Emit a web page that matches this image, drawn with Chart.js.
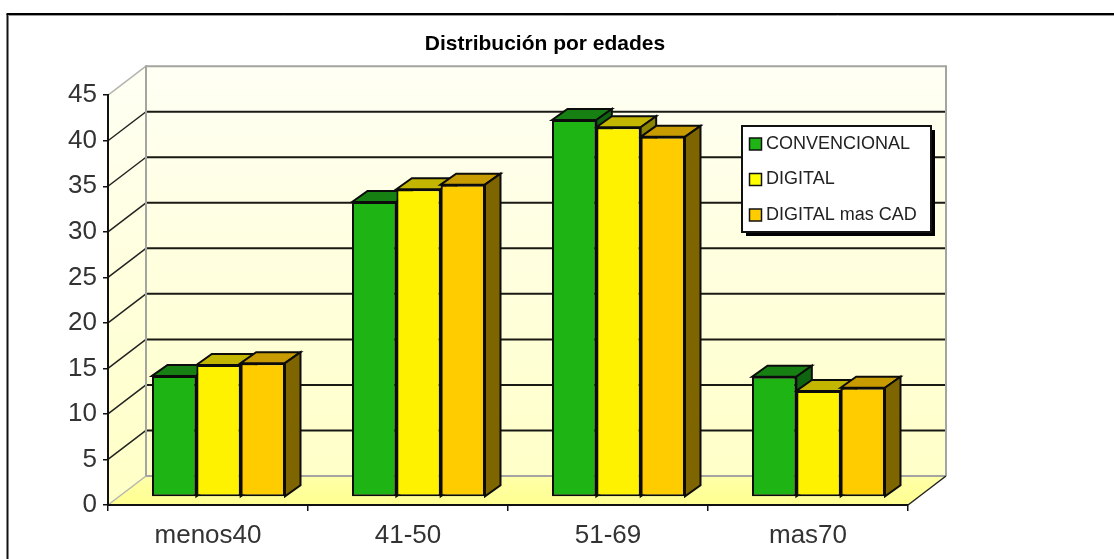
<!DOCTYPE html>
<html>
<head>
<meta charset="utf-8">
<title>Distribución por edades</title>
<script src="https://cdn.jsdelivr.net/npm/chart.js@4/dist/chart.umd.min.js"></script>
<style>
  html, body { margin: 0; padding: 0; background: #fff; }
  canvas { display: block; }
</style>
</head>
<body>
<canvas id="ages" width="1114" height="559"></canvas>
<script>
const CATEGORIES = ["menos40", "41-50", "51-69", "mas70"];
const CONVENCIONAL = [13.3, 32.4, 41.4, 13.2];
const DIGITAL = [14.5, 33.8, 40.6, 11.65];
const DIGITAL_CAD = [14.7, 34.3, 39.55, 12.0];

const FONT = "'Liberation Sans', Arial, sans-serif";
const TEXT_COLOR = "#333";

// depth of the back wall and of the bars, relative to the front axis plane
const WALL_DEPTH = { x: 38, y: -29 };
const BAR_SHIFT = { x: 10.5, y: -8 };
const BAR_DEPTH = { x: 15.5, y: -11 };

const SHADES = [
  { front: "#1eb414", top: "#178012", side: "#0f6410" },
  { front: "#fff200", top: "#c2b600", side: "#8a8400" },
  { front: "#ffcc00", top: "#c89c00", side: "#7f6500" },
];

function poly(ctx, pts, fill, stroke, width) {
  ctx.beginPath();
  pts.forEach((p, i) => (i ? ctx.lineTo(p[0], p[1]) : ctx.moveTo(p[0], p[1])));
  ctx.closePath();
  if (fill) {
    ctx.fillStyle = fill;
    ctx.fill();
  }
  if (stroke) {
    ctx.strokeStyle = stroke;
    ctx.lineWidth = width;
    ctx.stroke();
  }
}

function line(ctx, x1, y1, x2, y2, color, width) {
  ctx.beginPath();
  ctx.moveTo(x1, y1);
  ctx.lineTo(x2, y2);
  ctx.strokeStyle = color;
  ctx.lineWidth = width;
  ctx.stroke();
}

function drawFrame(ctx, chart) {
  line(ctx, 7.5, 14, 7.5, chart.height, "#111", 2);
  line(ctx, 6.5, 14, chart.width, 14, "#000", 2);
  line(ctx, 8.5, 15.5, chart.width, 15.5, "#999", 1);
}

// back wall, side wall, floor and the gridlines that run across them
function drawWalls(ctx, chart) {
  const { left, right, top, bottom } = chart.chartArea;
  const d = WALL_DEPTH;
  const wallFill = ctx.createLinearGradient(0, top + d.y, 0, bottom + d.y);
  wallFill.addColorStop(0, "#fffff4");
  wallFill.addColorStop(1, "#ffffc8");
  const floorFill = ctx.createLinearGradient(0, bottom + d.y, 0, bottom);
  floorFill.addColorStop(0, "#ffffa8");
  floorFill.addColorStop(1, "#ffff90");

  poly(ctx, [[left, top], [left + d.x, top + d.y], [left + d.x, bottom + d.y], [left, bottom]], wallFill);
  poly(ctx, [[left + d.x, top + d.y], [right + d.x, top + d.y], [right + d.x, bottom + d.y], [left + d.x, bottom + d.y]], wallFill);
  poly(ctx, [[left, bottom], [left + d.x, bottom + d.y], [right + d.x, bottom + d.y], [right, bottom]], floorFill);

  chart.scales.y.ticks.forEach((tick) => {
    const y = chart.scales.y.getPixelForValue(tick.value);
    const inner = tick.value > 0 && tick.value < 45;
    line(ctx, left + d.x, y + d.y, right + d.x, y + d.y, inner ? "#1a1a14" : "#a4a4a0", 2);
    line(ctx, left, y, left + d.x, y + d.y, inner ? "#222" : "#b4b4b0", 1.5);
  });
  line(ctx, left + d.x, top + d.y - 1, left + d.x, bottom + d.y, "#a4a4a0", 2);
  line(ctx, right + d.x, top + d.y - 1, right + d.x, bottom + d.y, "#a4a4a0", 2);
  line(ctx, right, bottom, right + d.x, bottom + d.y, "#222", 1.5);
}

// top and side faces, left to right so that each bar hides the one behind it
function drawBarDepth(ctx, chart) {
  const d = BAR_DEPTH;
  CATEGORIES.forEach((_, index) => {
    chart.data.datasets.forEach((set, di) => {
      const bar = chart.getDatasetMeta(di).data[index];
      const x0 = bar.x - bar.width / 2;
      const x1 = bar.x + bar.width / 2;
      const shade = SHADES[di];
      poly(ctx, [[x0, bar.y], [x0 + d.x, bar.y + d.y], [x1 + d.x, bar.y + d.y], [x1, bar.y]], shade.top, "#0c0c0c", 2);
      poly(ctx, [[x1, bar.y], [x1 + d.x, bar.y + d.y], [x1 + d.x, bar.base + d.y], [x1, bar.base]], shade.side, "#0c0c0c", 2);
    });
  });
}

function drawLegendBox(ctx, chart) {
  ctx.fillStyle = "#000";
  ctx.fillRect(746, 130, 189, 106);
  ctx.fillStyle = "#fff";
  ctx.fillRect(742, 126, 189, 106);
  ctx.strokeStyle = "#111";
  ctx.lineWidth = 2;
  ctx.strokeRect(742, 126, 189, 106);

  ctx.font = "18px " + FONT;
  ctx.textAlign = "left";
  ctx.textBaseline = "middle";
  chart.data.datasets.forEach((set, i) => {
    const y = 144 + i * 35.5;
    ctx.fillStyle = set.legendColor;
    ctx.fillRect(749.5, y - 6, 12, 12);
    ctx.strokeStyle = "#111";
    ctx.lineWidth = 1.5;
    ctx.strokeRect(749.5, y - 6, 12, 12);
    ctx.fillStyle = "#222";
    ctx.fillText(set.label, 766, y);
  });
}

const scenePlugin = {
  id: "scene",
  afterLayout(chart) {
    // centre the title over the plot rather than the whole canvas
    chart.titleBlock.left = 345;
    chart.titleBlock.right = 745;
  },
  beforeDraw(chart) {
    const ctx = chart.ctx;
    ctx.save();
    drawFrame(ctx, chart);
    drawWalls(ctx, chart);
    drawLegendBox(ctx, chart);
    ctx.restore();
  },
  beforeDatasetsDraw(chart) {
    const ctx = chart.ctx;
    ctx.save();
    ctx.translate(BAR_SHIFT.x, BAR_SHIFT.y);
    drawBarDepth(ctx, chart);
  },
  afterDatasetsDraw(chart) {
    chart.ctx.restore();
  },
};

function barSet(label, data, i, legendColor) {
  return {
    label,
    data,
    legendColor,
    backgroundColor: SHADES[i].front,
    borderColor: "#0c0c0c",
    borderWidth: 2,
    borderSkipped: false,
    barPercentage: 1,
    categoryPercentage: 0.665,
  };
}

new Chart(document.getElementById("ages"), {
  type: "bar",
  data: {
    labels: CATEGORIES,
    datasets: [
      barSet("CONVENCIONAL", CONVENCIONAL, 0, "#1eb414"),
      barSet("DIGITAL", DIGITAL, 1, "#ffff00"),
      barSet("DIGITAL mas CAD", DIGITAL_CAD, 2, "#ffcc00"),
    ],
  },
  options: {
    responsive: false,
    animation: false,
    layout: { padding: { top: 0, left: 0, right: 206, bottom: 0 } },
    clip: false,
    plugins: {
      legend: { display: false },
      tooltip: { enabled: false },
      title: {
        display: true,
        text: "Distribución por edades",
        color: "#000",
        font: { family: FONT, size: 21, weight: "bold", lineHeight: 1.2 },
        padding: { top: 32, bottom: 38 },
      },
    },
    scales: {
      x: {
        afterFit(scale) {
          scale.height = 54;
        },
        border: { color: "#111", width: 2 },
        grid: { display: true, drawOnChartArea: false, drawTicks: true, tickLength: 6, color: "#111", lineWidth: 1.5 },
        ticks: { color: TEXT_COLOR, font: { family: FONT, size: 26 }, padding: 9, maxRotation: 0 },
      },
      y: {
        min: 0,
        max: 45,
        afterFit(scale) {
          scale.width = 108;
        },
        border: { color: "#111", width: 2 },
        grid: { display: true, drawOnChartArea: false, drawTicks: true, tickLength: 5, color: "#111", lineWidth: 1.5 },
        ticks: { stepSize: 5, color: TEXT_COLOR, font: { family: FONT, size: 26 }, padding: 6 },
      },
    },
  },
  plugins: [scenePlugin],
});
</script>
</body>
</html>
